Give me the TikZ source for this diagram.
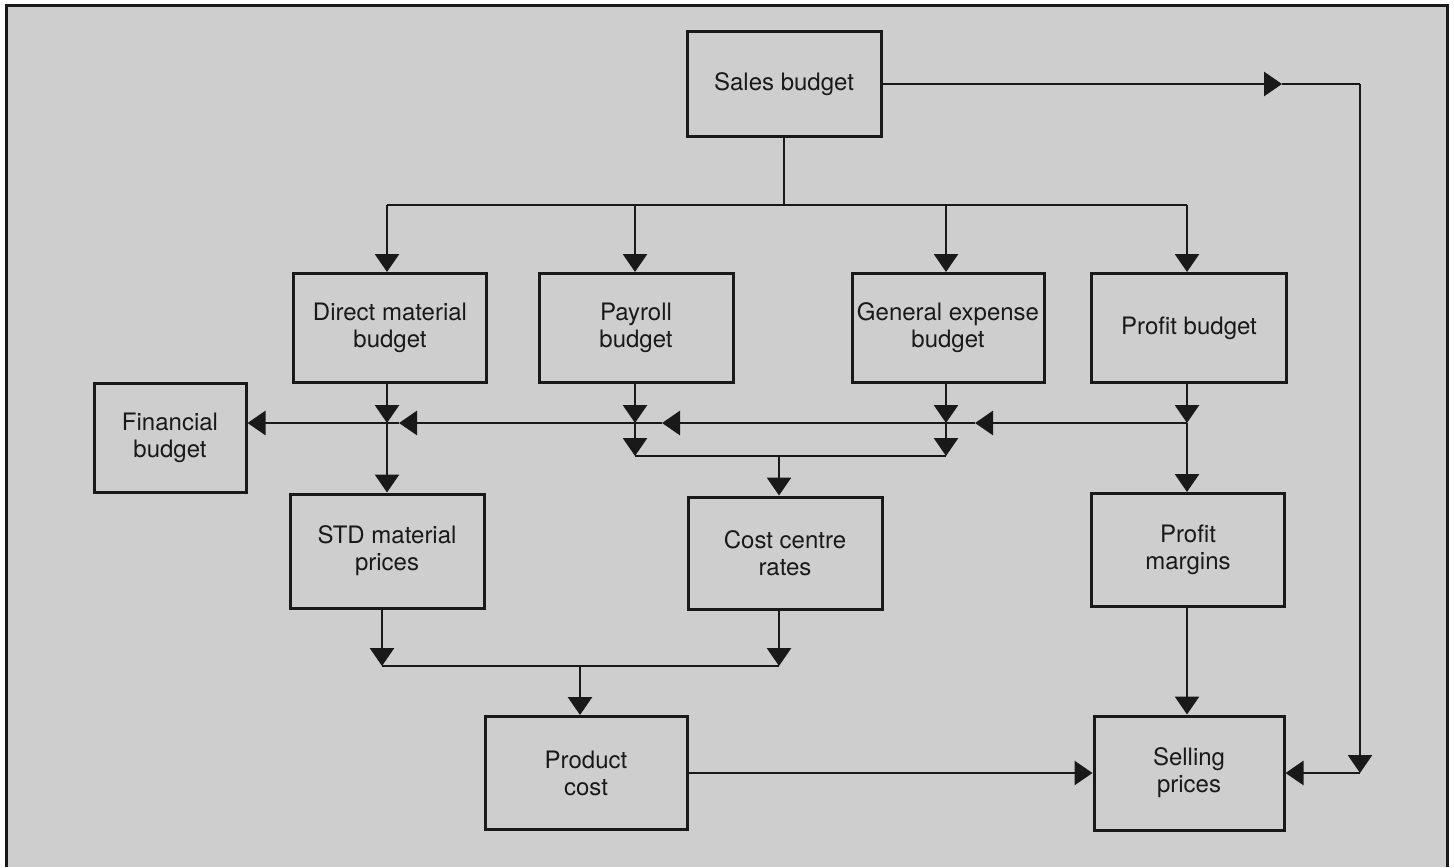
\documentclass[tikz,border=0pt]{standalone}
\usepackage{fontspec}
\setmainfont{TeX Gyre Heros}
\usetikzlibrary{arrows.meta}
\definecolor{paper}{RGB}{206,206,206}
\definecolor{ink}{RGB}{25,25,25}
\begin{document}
\begin{tikzpicture}[x=0.5pt,y=-0.5pt,
  box/.style={draw=ink, line width=1.5pt, inner sep=0pt, align=center, text=ink,
              font=\fontsize{12}{13.5}\selectfont},
  conn/.style={draw=ink, line width=1.4pt},
  arr/.style={conn, -{Triangle[length=9pt,width=12pt]}}]
\useasboundingbox (0,0) rectangle (1454,867);
\fill[paper] (6,5) rectangle (1447,867);
\draw[ink, line width=1.5pt] (6,867) -- (6,5) -- (1447,5) -- (1447,867);

% boxes
\node[box, minimum width=97pt,  minimum height=52.5pt] (sales) at (784,84)  {Sales budget};
\node[box, minimum width=96.5pt,minimum height=54.5pt] (dm)    at (390,328) {Direct material\\budget};
\node[box, minimum width=97pt,  minimum height=54.5pt] (pay)   at (636,328) {Payroll\\budget};
\node[box, minimum width=96pt,  minimum height=54.5pt] (gen)   at (948,328) {General expense\\budget};
\node[box, minimum width=97.5pt,minimum height=54.5pt] (pb)    at (1189,328) {Profit budget};
\node[box, minimum width=76pt,  minimum height=54.5pt] (fin)   at (170,438) {Financial\\budget};
\node[box, minimum width=97pt,  minimum height=57pt]   (std)   at (387,551) {STD material\\prices};
\node[box, minimum width=97pt,  minimum height=56pt]   (ccr)   at (785,553) {Cost centre\\rates};
\node[box, minimum width=96.5pt,minimum height=56.5pt] (pm)    at (1188,550) {Profit\\margins};
\node[box, minimum width=101pt, minimum height=56.5pt] (pc)    at (586,773) {Product\\cost};
\node[box, minimum width=95pt,  minimum height=57pt]   (sp)    at (1189,773) {Selling\\prices};

% junction coordinates
\coordinate (rA) at (1282,84);
\coordinate (rB) at (1360,84);
\coordinate (rC) at (1360,773);
\coordinate (ts) at (784,205);
\coordinate (t1) at (387,205);
\coordinate (t2) at (635,205);
\coordinate (t3) at (946,205);
\coordinate (t4) at (1187,205);
\coordinate (m1) at (387,423);
\coordinate (m2) at (635,423);
\coordinate (m3) at (946,423);
\coordinate (m4) at (1187,423);
\coordinate (a3) at (975,423);
\coordinate (a2) at (662,423);
\coordinate (a1) at (399,423);
\coordinate (l2) at (635,456);
\coordinate (l3) at (946,456);
\coordinate (l0) at (779,456);
\coordinate (b1) at (382,666);
\coordinate (b2) at (779,666);
\coordinate (bp) at (580,666);

% sales budget to selling prices
\draw[arr] (sales.east) -- (rA);
\draw[conn] (rA) -- (rB);
\draw[arr] (rB) -- (rC);
\draw[arr] (rC) -- (rC -| sp.east);

% top bus
\draw[conn] (sales.south) -- (ts);
\draw[conn] (t1) -- (t4);
\draw[arr] (t1) -- (t1 |- dm.north);
\draw[arr] (t2) -- (t2 |- pay.north);
\draw[arr] (t3) -- (t3 |- gen.north);
\draw[arr] (t4) -- (t4 |- pb.north);

% middle bus
\draw[arr] (dm.south -| m1) -- (m1);
\draw[arr] (m1) -- (m1 |- std.north);
\draw[arr] (pay.south -| m2) -- (m2);
\draw[arr] (m2) -- (l2);
\draw[arr] (gen.south -| m3) -- (m3);
\draw[arr] (m3) -- (l3);
\draw[arr] (pb.south -| m4) -- (m4);
\draw[arr] (m4) -- (m4 |- pm.north);
\draw[arr] (m4) -- (a3);
\draw[arr] (a3) -- (a2);
\draw[arr] (a2) -- (a1);
\draw[arr] (a1) -- (a1 -| fin.east);

% lower bus to cost centre rates
\draw[conn] (l2) -- (l3);
\draw[arr] (l0) -- (l0 |- ccr.north);

% bottom bus to product cost
\draw[arr] (std.south -| b1) -- (b1);
\draw[arr] (ccr.south -| b2) -- (b2);
\draw[conn] (b1) -- (b2);
\draw[arr] (bp) -- (bp |- pc.north);

% profit margins and product cost to selling prices
\draw[arr] (pm.south -| m4) -- (m4 |- sp.north);
\draw[arr] (pc.east) -- (pc.east -| sp.west);
\end{tikzpicture}
\end{document}
